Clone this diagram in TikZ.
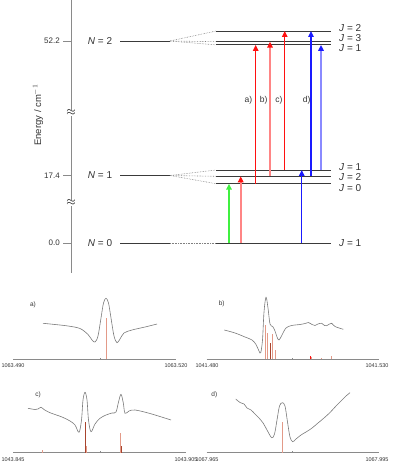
\documentclass[tikz,border=0pt]{standalone}
\usepackage{fontspec}
\setmainfont{Liberation Sans}
\usetikzlibrary{arrows.meta}
\definecolor{txt}{HTML}{333333}
\definecolor{lev}{HTML}{3A3A3A}
\definecolor{axg}{HTML}{8A8A8A}
\definecolor{rd}{HTML}{FF1010}
\definecolor{pk}{HTML}{FF8585}
\definecolor{gr}{HTML}{40F040}
\definecolor{bl}{HTML}{1A1AFF}
\definecolor{lb}{HTML}{8A8AFF}
\definecolor{stk}{HTML}{E39A88}
\definecolor{dstk}{HTML}{A8442E}
\definecolor{crv}{HTML}{7A7A7A}
\begin{document}
\begin{tikzpicture}[x=1pt,y=-1pt,
  every node/.style={text=txt,inner sep=0pt},
  lvl/.style={draw=lev,line width=0.9pt},
  fan/.style={draw=gray,densely dotted,line width=0.6pt},
  ax/.style={draw=axg,line width=0.7pt},
  tr/.style={line width=#1},
  tip/.style={-{Triangle[width=5.5pt,length=6pt,color=#1]}},
  nlab/.style={font=\fontsize{10}{12}\selectfont},
  jlab/.style={font=\fontsize{10}{12}\selectfont,anchor=west},
  elab/.style={font=\fontsize{8}{10}\selectfont,anchor=east},
  alab/.style={font=\fontsize{8.5}{10}\selectfont},
  slab/.style={font=\fontsize{5.5}{7}\selectfont},
  plab/.style={font=\fontsize{6.5}{8}\selectfont},
  curve/.style={draw=crv,line width=0.6pt},
  stick/.style={draw=#1,line width=0.8pt},
  brk/.style={fill=white,inner sep=0.3pt,text=black,font=\fontsize{13}{13}\selectfont}
]
\useasboundingbox (0,0) rectangle (392,462);

% ---------- energy axis ----------
\coordinate (axT) at (71,0);
\coordinate (axB) at (71,273);
\draw[ax] (axT) -- (axB);
\foreach \y/\t/\n in {41/52.2/t2,175.5/17.4/t1,243/0.0/t0}{
  \coordinate (\n a) at (63,\y);
  \coordinate (\n b) at (71,\y);
  \draw[ax] (\n a) -- (\n b);
  \node[elab] (\n) at (60,\y) {\t};
}
\node[brk] (br1) at (71,113) {$\approx$};
\node[brk] (br2) at (71,203) {$\approx$};
\node[rotate=90,font=\fontsize{9.5}{11}\selectfont] (elabel) at (38,115) {Energy / cm$^{-1}$};

% ---------- N levels ----------
\node[nlab] (N2) at (100,41) {\textit{N} = 2};
\node[nlab] (N1) at (100,175.5) {\textit{N} = 1};
\node[nlab] (N0) at (100,243) {\textit{N} = 0};
\coordinate (n2a) at (120,41);  \coordinate (n2b) at (170,41);
\coordinate (n1a) at (120,175.5); \coordinate (n1b) at (170,175.5);
\coordinate (n0a) at (120,243); \coordinate (n0b) at (170,243);
\draw[lvl] (n2a) -- (n2b);
\draw[lvl] (n1a) -- (n1b);
\draw[lvl] (n0a) -- (n0b);

% ---------- J levels ----------
\foreach \n/\y in {a2/31,a3/41.7,a1/44.9,b1/170,b2/176.3,b0/183.7,c1/243}{
  \coordinate (\n L) at (216,\y);
  \coordinate (\n R) at (331,\y);
  \draw[lvl] (\n L) -- (\n R);
}
\draw[fan] (n2b) -- (a2L);
\draw[fan] (n2b) -- (a3L);
\draw[fan] (n2b) -- (a1L);
\draw[fan] (n1b) -- (b1L);
\draw[fan] (n1b) -- (b2L);
\draw[fan] (n1b) -- (b0L);
\draw[fan] (n0b) -- (c1L);

\node[jlab] (ja2) at (339,28) {\textit{J} = 2};
\node[jlab] (ja3) at (339,38) {\textit{J} = 3};
\node[jlab] (ja1) at (339,48) {\textit{J} = 1};
\node[jlab] (jb1) at (339,167) {\textit{J} = 1};
\node[jlab] (jb2) at (339,177) {\textit{J} = 2};
\node[jlab] (jb0) at (339,188) {\textit{J} = 0};
\node[jlab] (jc1) at (339,243) {\textit{J} = 1};

% ---------- transitions ----------
\coordinate (g0) at (229,243);   \coordinate (g1) at (229,183.7);
\coordinate (p0) at (240.7,243); \coordinate (p1) at (240.7,176.3);
\coordinate (q0) at (301.7,243); \coordinate (q1) at (301.7,170);
\draw[tr=1.6pt,draw=gr,tip=gr] (g0) -- (g1);
\draw[tr=1.8pt,draw=pk,tip=rd] (p0) -- (p1);
\draw[tr=1.3pt,draw=bl,tip=bl] (q0) -- (q1);

\coordinate (A0) at (255.7,183.7); \coordinate (A1) at (255.7,44.9);
\coordinate (B0) at (270,176.3);   \coordinate (B1) at (270,41.7);
\coordinate (C0) at (284.7,170);   \coordinate (C1) at (284.7,31);
\coordinate (D0) at (311,176.3);   \coordinate (D1) at (311,31);
\coordinate (E0) at (321,170);     \coordinate (E1) at (321,44.9);
\draw[tr=1.3pt,draw=rd,tip=rd] (A0) -- (A1);
\draw[tr=1.8pt,draw=pk,tip=rd] (B0) -- (B1);
\draw[tr=1.3pt,draw=rd,tip=rd] (C0) -- (C1);
\draw[tr=1.3pt,draw=bl,tip=bl] (D0) -- (D1);
\draw[tr=1.8pt,draw=lb,tip=bl] (E0) -- (E1);

\node[alab] (la) at (248.3,100) {a)};
\node[alab] (lb) at (263.7,100) {b)};
\node[alab] (lc) at (279,100) {c)};
\node[alab] (ld) at (306.7,100) {d)};

% ---------- spectrum a ----------
\coordinate (saL) at (13,359); \coordinate (saR) at (176,359);
\draw[ax,line width=0.5pt] (saL) -- (saR);
\draw[ax,line width=0.4pt] (100,359) -- (100,357.5);
\node[slab] (sa1) at (13,366) {1063.490};
\node[slab] (sa2) at (176,366) {1063.520};
\node[plab] (pa) at (33,305) {a)};
\coordinate (sta0) at (106,359); \coordinate (sta1) at (106,318);
\draw[stick=stk] (sta0) -- (sta1);
\draw[curve] plot[smooth,tension=0.55] coordinates {(43,323.3) (55,324.5) (68,326) (80,328.5) (88,334.5) (92,340) (95,342) (98,336) (101,318) (103.5,303) (106,298.3) (108.5,303) (111,318) (114,336) (117,342.7) (120,339) (124,333) (132,330) (145,327) (157,324)};

% ---------- spectrum b ----------
\coordinate (sbL) at (206.7,359.3); \coordinate (sbR) at (379,359.3);
\draw[ax,line width=0.5pt] (sbL) -- (sbR);
\draw[ax,line width=0.4pt] (292.3,359.3) -- (292.3,357.8);
\node[slab] (sb1) at (207,366) {1041.480};
\node[slab] (sb2) at (377,366) {1041.530};
\node[plab] (pb) at (221.7,304) {b)};
\foreach \x/\t/\c in {265.3/325/stk,267.3/333/stk,270.3/343/dstk,272.7/334/stk,275/350/stk,310.3/355.5/rd,311.7/357/stk,321.7/357.5/stk,331.7/356/stk}{
  \draw[stick=\c,line width=0.7pt] (\x,359.3) -- (\x,\t);
}
\draw[curve] plot[smooth,tension=0.55] coordinates {(224.3,330) (235,333) (245,337) (252,340) (256,344.5) (259,351) (260.7,352.7) (262.5,340) (264,312) (266,297.3) (268,308) (270,324) (272.7,326.5) (275,331) (277,337) (279,340) (282,335) (286,328) (291.7,325.5) (300,324.5) (305,323.5) (308.3,322.5) (312,324.5) (315,325.5) (318,324) (321.7,323.3) (324.5,325.5) (326.7,325.7) (329.5,324) (331.7,323.3) (335,326.5) (343.3,329.3)};

% ---------- spectrum c ----------
\coordinate (scL) at (13,452.7); \coordinate (scR) at (186,452.7);
\draw[ax,line width=0.5pt] (scL) -- (scR);
\draw[ax,line width=0.4pt] (100,452.7) -- (100,451.2);
\node[slab] (sc1) at (13,459.5) {1043.845};
\node[slab] (sc2) at (186,459.5) {1043.905};
\node[plab] (pc) at (38,395) {c)};
\draw[stick=stk,line width=1pt] (42,452.7) -- (42,449.5);
\draw[stick=dstk,line width=0.8pt] (85,452.7) -- (85,421.7);
\draw[stick=dstk,line width=1.3pt] (85.5,452.7) -- (85.5,438);
\draw[stick=stk,line width=0.7pt] (86.5,452.7) -- (86.5,446);
\draw[stick=stk,line width=0.7pt] (120.6,452.7) -- (120.6,433.3);
\draw[stick=dstk,line width=1.4pt] (121.2,452.7) -- (121.2,446);
\draw[curve] plot[smooth,tension=0.55] coordinates {(28,408.3) (35,409.5) (38,409) (41,407.3) (44,409.5) (50,412.7) (62,417) (70,421) (75,425) (79,432.3) (81.5,420) (83,400) (85,392.3) (87,400) (88.5,420) (91,431.7) (95,424) (100,418.3) (106,415) (112,413) (116,412) (118.5,402) (121,394.3) (123.3,403) (125,413.3) (129,411) (135,410) (150,413.5) (171,420)};

% ---------- spectrum d ----------
\coordinate (sdL) at (206.7,452.7); \coordinate (sdR) at (379,452.7);
\draw[ax,line width=0.5pt] (sdL) -- (sdR);
\draw[ax,line width=0.4pt] (292.3,452.7) -- (292.3,451.2);
\node[slab] (sd1) at (207,459.5) {1067.965};
\node[slab] (sd2) at (377,459.5) {1067.995};
\node[plab] (pd) at (214.3,395) {d)};
\coordinate (std0) at (282.3,452.7); \coordinate (std1) at (282.3,421.7);
\draw[stick=stk] (std0) -- (std1);
\draw[curve] plot[smooth,tension=0.55] coordinates {(235.7,399) (240,402.5) (244,404) (247,408) (251,410) (255,414) (259,418) (263.3,423.3) (267,430) (271.7,437.7) (274.5,434) (277,420) (279.5,406) (282.3,402.7) (285,406) (287.5,422) (290,437) (292.7,441.7) (296,439) (301,435) (306,432) (311.7,428.3) (318,423) (324,418) (330,412.5) (336,406) (341,401) (346,396) (350,392.7)};

\end{tikzpicture}
\end{document}
